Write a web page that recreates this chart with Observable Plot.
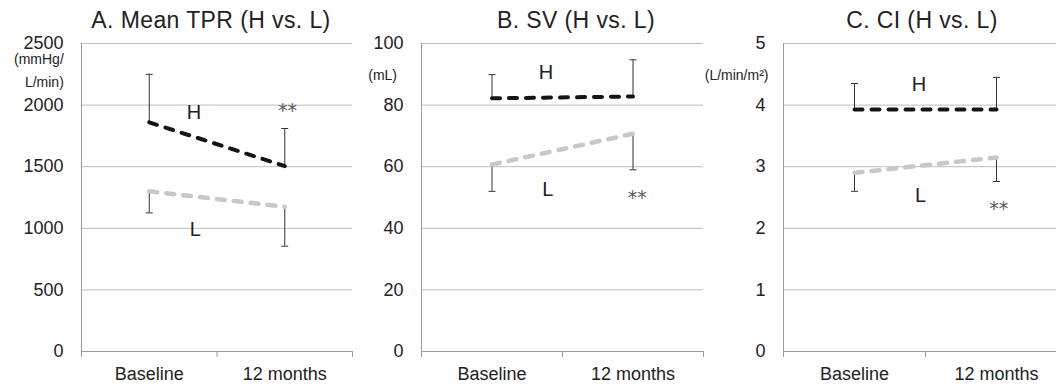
<!DOCTYPE html>
<html>
<head>
<meta charset="utf-8">
<script src="https://cdn.jsdelivr.net/npm/d3@7"></script>
<script src="https://cdn.jsdelivr.net/npm/@observablehq/plot@0.6"></script>
<style>
  html, body { margin: 0; padding: 0; background: #fff; }
  #charts { position: relative; width: 1056px; height: 384px; overflow: hidden; background: #fff; }
  .panel { position: absolute; top: 0; }
  .panel svg { max-width: none !important; }
  .title {
    position: absolute; top: 9px; width: 400px; text-align: center;
    font-family: "Liberation Sans", Arial, sans-serif; font-size: 23px; line-height: 23px;
    letter-spacing: 0.4px; color: #222; white-space: nowrap;
  }
</style>
</head>
<body>
<div id="charts"></div>
<script>
// Time points shared by all three panels
const categories = ["Baseline", "12 months"];

// A. Mean TPR (mmHg/L/min): group means and SD (H bars point up, L bars point down)
const tprH = [1860, 1505];
const tprHsd = [390, 305];
const tprL = [1300, 1175];
const tprLsd = [175, 320];
const tprTicks = [0, 500, 1000, 1500, 2000, 2500];

// B. SV (mL)
const svH = [82.2, 82.8];
const svHsd = [7.7, 11.9];
const svL = [60.7, 70.7];
const svLsd = [8.7, 11.7];
const svTicks = [0, 20, 40, 60, 80, 100];

// C. CI (L/min/m²)
const ciH = [3.93, 3.93];
const ciHsd = [0.42, 0.52];
const ciL = [2.90, 3.15];
const ciLsd = [0.30, 0.39];
const ciTicks = [0, 1, 2, 3, 4, 5];

// Group labels and significance marks, anchored in data space (x = time index)
const tprNotes = [{text: "H", x: 0.83, y: 1942}, {text: "L", x: 0.84, y: 993}];
const tprStars = [{text: "**", x: 1.52, y: 1993}];
const svNotes = [{text: "H", x: 0.883, y: 90.7}, {text: "L", x: 0.895, y: 52.5}];
const svStars = [{text: "**", x: 1.53, y: 51.6}];
const ciNotes = [{text: "H", x: 0.954, y: 4.33}, {text: "L", x: 0.965, y: 2.53}];
const ciStars = [{text: "**", x: 1.516, y: 2.39}];

// Horizontal cap drawn at the end of each error bar
const cap = {
  draw(context) {
    context.moveTo(-3.5, 0);
    context.lineTo(3.5, 0);
  }
};

function panel(cfg) {
  const rows = categories.map((c, i) => ({
    i, H: cfg.H[i], Hsd: cfg.Hsd[i], L: cfg.L[i], Lsd: cfg.Lsd[i]
  }));
  const cx = d => d.i + 0.5;
  const ink = "#333";
  return Plot.plot({
    width: cfg.width,
    height: 384,
    marginTop: 43,
    marginBottom: 33,
    marginLeft: cfg.marginLeft,
    marginRight: cfg.marginRight,
    x: {domain: [0, categories.length], axis: null, label: null},
    y: {domain: [0, cfg.ticks[cfg.ticks.length - 1]], axis: null, label: null},
    style: {
      fontFamily: "'Liberation Sans', Arial, sans-serif",
      fontSize: "18px",
      color: "#222",
      background: "transparent",
      overflow: "visible",
      maxWidth: "none"
    },
    marks: [
      Plot.gridY(cfg.ticks, {stroke: "#bdbdbd", strokeOpacity: 1}),
      Plot.ruleY([0], {stroke: "#999"}),
      Plot.ruleX([0], {stroke: "#999"}),
      Plot.axisY(cfg.ticks, {tickSize: 0, tickPadding: 18, fontSize: 18, tickFormat: d => String(d)}),
      Plot.axisX(d3.range(categories.length + 1), {tickSize: 6, stroke: "#999", tickFormat: () => ""}),
      Plot.axisX(categories.map((c, i) => i + 0.5), {
        tickSize: 0, tickPadding: 16, fontSize: 18,
        tickFormat: d => categories[Math.floor(d)]
      }),
      // error bars: H upward, L downward
      Plot.ruleX(rows, {x: cx, y1: "H", y2: d => d.H + d.Hsd, stroke: ink, strokeWidth: 1}),
      Plot.dot(rows, {x: cx, y: d => d.H + d.Hsd, symbol: cap, fill: "none", stroke: ink, strokeWidth: 1}),
      Plot.ruleX(rows, {x: cx, y1: "L", y2: d => d.L - d.Lsd, stroke: ink, strokeWidth: 1}),
      Plot.dot(rows, {x: cx, y: d => d.L - d.Lsd, symbol: cap, fill: "none", stroke: ink, strokeWidth: 1}),
      // group means
      Plot.line(rows, {x: cx, y: "L", stroke: "#c8c8c8", strokeWidth: 4.5, strokeDasharray: "8,9", strokeLinecap: "round"}),
      Plot.line(rows, {x: cx, y: "H", stroke: "#141414", strokeWidth: 4, strokeDasharray: "8,9", strokeLinecap: "round"}),
      Plot.text(cfg.notes, {x: "x", y: "y", text: "text", fontSize: 20, fill: "#222"}),
      Plot.text(cfg.stars, {x: "x", y: "y", text: "text", fontSize: 19, fontFamily: "'DejaVu Sans', sans-serif", fill: "#5a5a5a", dy: 5}),
      Plot.text([cfg.unit], {
        text: d => d, frameAnchor: "top-left", textAnchor: "end", lineAnchor: "middle",
        dx: cfg.unitDx, dy: cfg.unitDy, fontSize: 14, lineHeight: 1.6, fill: "#222"
      })
    ]
  });
}

const root = document.getElementById("charts");

function place(node, left, width) {
  const div = document.createElement("div");
  div.className = "panel";
  div.style.left = left + "px";
  div.style.width = width + "px";
  div.appendChild(node);
  root.appendChild(div);
}

function title(text, center) {
  const div = document.createElement("div");
  div.className = "title";
  div.style.left = (center - 200) + "px";
  div.textContent = text;
  root.appendChild(div);
}

place(panel({
  H: tprH, Hsd: tprHsd, L: tprL, Lsd: tprLsd, ticks: tprTicks,
  notes: tprNotes, stars: tprStars,
  unit: "(mmHg/\nL/min)", unitDx: -17.7, unitDy: 25,
  width: 356, marginLeft: 81, marginRight: 4
}), 0, 356);

place(panel({
  H: svH, Hsd: svHsd, L: svL, Lsd: svLsd, ticks: svTicks,
  notes: svNotes, stars: svStars,
  unit: "(mL)", unitDx: -24.5, unitDy: 29,
  width: 349, marginLeft: 65, marginRight: 2
}), 356, 349);

place(panel({
  H: ciH, Hsd: ciHsd, L: ciL, Lsd: ciLsd, ticks: ciTicks,
  notes: ciNotes, stars: ciStars,
  unit: "(L/min/m²)", unitDx: -15, unitDy: 29,
  width: 363, marginLeft: 77, marginRight: 2
}), 706, 363);

title("A. Mean TPR (H vs. L)", 211);
title("B. SV (H vs. L)", 576);
title("C. CI (H vs. L)", 922);
</script>
</body>
</html>
